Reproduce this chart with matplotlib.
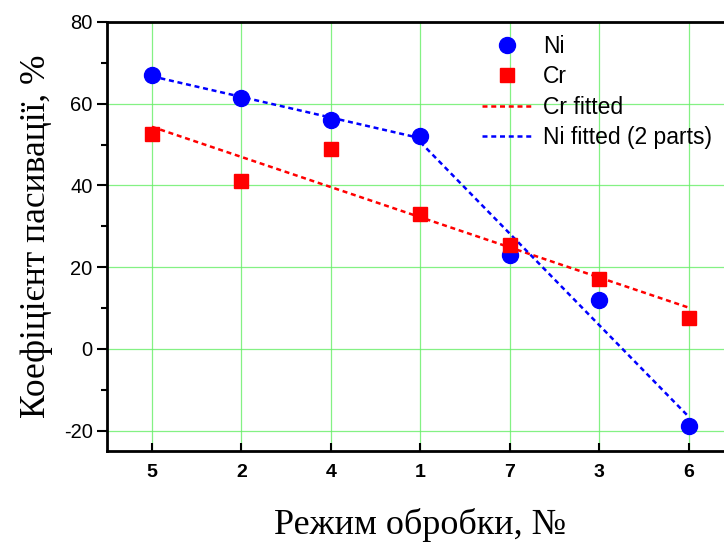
import numpy as np
import matplotlib
matplotlib.use("Agg")
import matplotlib.pyplot as plt
from matplotlib.ticker import MultipleLocator


MODES = ["5", "2", "4", "1", "7", "3", "6"]

NI = [67, 61.5, 56, 52, 23, 12, -19]

CR = [52.5, 41, 49, 33, 25.5, 17, 7.5]


def fit_line(x, y):

    k, b = np.polyfit(x, y, 1)

    return k * np.asarray(x) + b


def main():

    plt.rcParams["axes.unicode_minus"] = False

    x = np.arange(len(MODES))

    fig = plt.figure(figsize=(7.24, 5.48), dpi=100)

    ax = fig.add_axes([0.148, 0.177, 0.865, 0.783])

    ax.grid(True, color="#66ee66", linewidth=0.9, alpha=0.8)

    ax.set_axisbelow(True)

    cr_fit = fit_line(x, CR)

    ni_fit_a = fit_line(x[:4], NI[:4])

    ni_fit_b = fit_line(x[3:], NI[3:])

    ax.plot(x, cr_fit, color="red", linestyle=(0, (2, 1.5)), linewidth=1.8,
            label="Cr fitted", zorder=2)

    ax.plot(x[:4], ni_fit_a, color="blue", linestyle=(0, (2, 1.5)), linewidth=1.8,
            label="Ni fitted (2 parts)", zorder=2)

    ax.plot(x[3:], ni_fit_b, color="blue", linestyle=(0, (2, 1.5)), linewidth=1.8,
            zorder=2)

    ax.plot(x, NI, "o", color="blue", markersize=11.5, linestyle="none",
            label="Ni", zorder=3)

    ax.plot(x, CR, "s", color="red", markersize=10.5, linestyle="none",
            label="Cr", zorder=3)

    ax.set_xlim(-0.5, 6.5)

    ax.set_ylim(-25, 80)

    ax.set_xticks(x)

    ax.set_xticklabels(MODES, fontfamily="Liberation Sans", fontweight="bold",
                       fontsize=14)

    ax.yaxis.set_major_locator(MultipleLocator(20))

    ax.yaxis.set_minor_locator(MultipleLocator(10))

    for lab in ax.get_yticklabels():
        lab.set_fontfamily("Liberation Sans")
        lab.set_fontsize(14.5)

    ax.tick_params(axis="x", direction="in", length=6, width=1.5, pad=9)

    ax.tick_params(axis="y", which="major", direction="out", length=7, width=1.5)

    ax.tick_params(axis="y", which="minor", direction="out", length=4, width=1.5)

    for spine in ax.spines.values():
        spine.set_linewidth(2)

    ax.set_xlabel("Режим обробки, №", fontfamily="Liberation Serif",
                  fontsize=26, labelpad=20)

    ax.set_ylabel("Коефіцієнт пасивації, %", fontfamily="Liberation Serif",
                  fontsize=25.5, labelpad=8)

    handles, labels = ax.get_legend_handles_labels()

    order = [2, 3, 0, 1]

    ax.legend(
        [handles[i] for i in order],
        [labels[i] for i in order],
        loc="upper left",
        bbox_to_anchor=(0.650, 0.957),
        bbox_transform=fig.transFigure,
        frameon=False,
        prop={"family": "Liberation Sans", "size": 16.5},
        handlelength=2.2,
        handletextpad=0.45,
        labelspacing=0.32,
        borderpad=0
    )

    fig.savefig("out.png", dpi=100)

    plt.close(fig)


if __name__ == "__main__":
    main()
